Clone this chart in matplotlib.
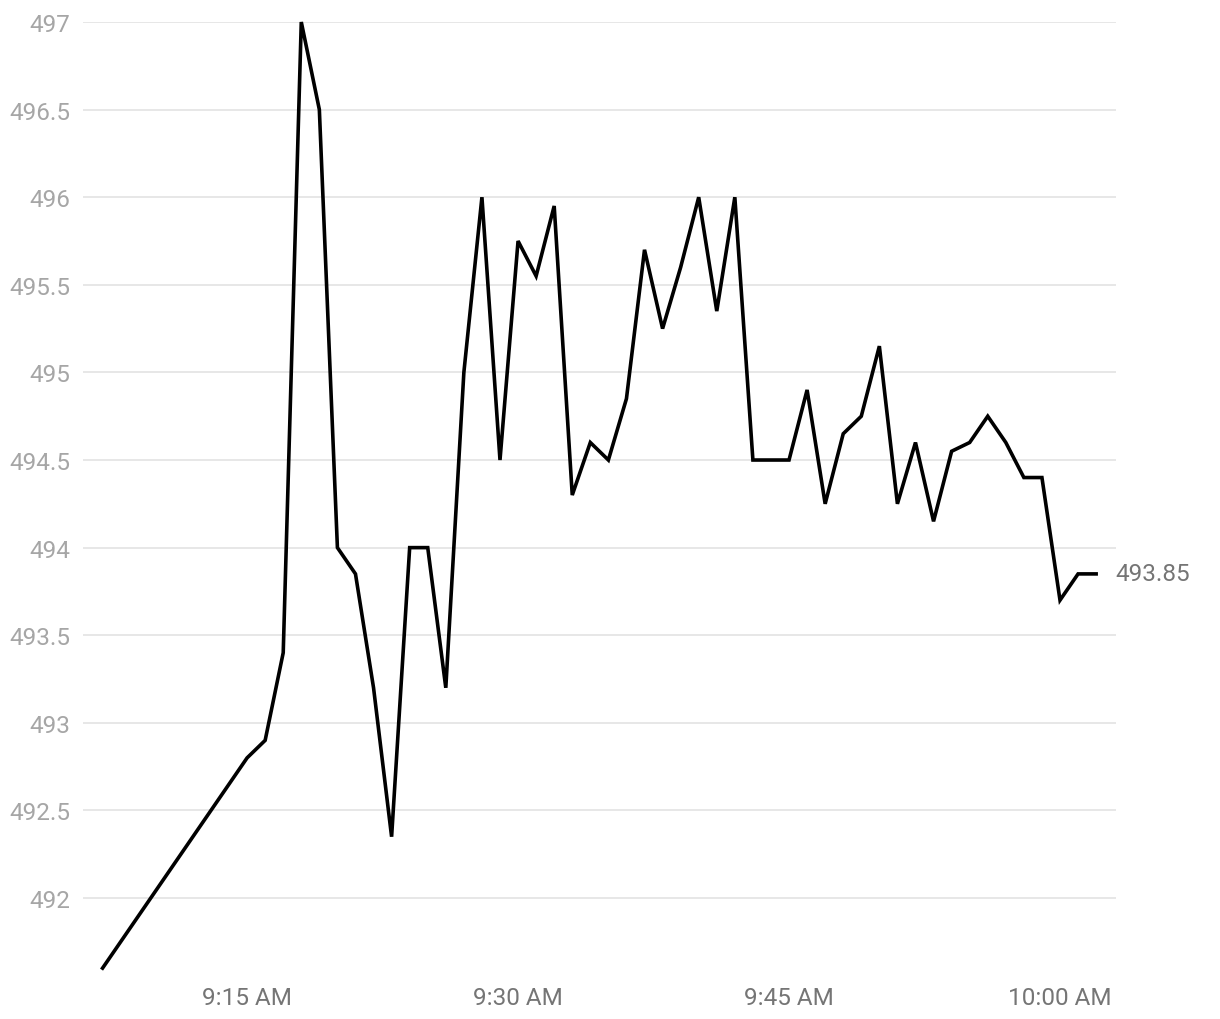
import matplotlib
matplotlib.use("Agg")
import matplotlib.pyplot as plt
import matplotlib.dates as mdates
import pandas as pd

# price readings, one per minute (gap between 9:07 and 9:15)
times = ['09:07', '09:15', '09:16', '09:17', '09:18', '09:19', '09:20', '09:21',
         '09:22', '09:23', '09:24', '09:25', '09:26', '09:27', '09:28', '09:29',
         '09:30', '09:31', '09:32', '09:33', '09:34', '09:35', '09:36', '09:37',
         '09:38', '09:39', '09:40', '09:41', '09:42', '09:43', '09:44', '09:45',
         '09:46', '09:47', '09:48', '09:49', '09:50', '09:51', '09:52', '09:53',
         '09:54', '09:55', '09:56', '09:57', '09:58', '09:59', '10:00', '10:01',
         '10:02']
prices = [491.6, 492.8, 492.9, 493.4, 497.0, 496.5, 494.0, 493.85,
          493.2, 492.35, 494.0, 494.0, 493.2, 495.0, 496.0, 494.5,
          495.75, 495.55, 495.95, 494.3, 494.6, 494.5, 494.85, 495.7,
          495.25, 495.6, 496.0, 495.35, 496.0, 494.5, 494.5, 494.5,
          494.9, 494.25, 494.65, 494.75, 495.15, 494.25, 494.6, 494.15,
          494.55, 494.6, 494.75, 494.6, 494.4, 494.4, 493.7, 493.85,
          493.85]
y_ticks = [492, 492.5, 493, 493.5, 494, 494.5, 495, 495.5, 496, 496.5, 497]
x_ticks = ['09:15', '09:30', '09:45', '10:00']

plt.rcParams['font.family'] = ['Roboto', 'DejaVu Sans']

day = '2024-01-02 '
t = pd.to_datetime([day + s for s in times])

fig = plt.figure(figsize=(12.2, 10.2), dpi=100)
ax = fig.add_axes([83 / 1220, 1 - 970 / 1020, (1116 - 83) / 1220, (970 - 23) / 1020])

ax.plot(t, prices, color='black', linewidth=2.6, clip_on=False, solid_joinstyle='miter')

ax.set_xlim(pd.Timestamp(day + '09:05:55'), pd.Timestamp(day + '10:03:06'))
ax.set_ylim(491.595, 497)

ax.set_yticks(y_ticks)
ax.set_yticklabels(['{:g}'.format(v) for v in y_ticks])
ax.set_xticks(pd.to_datetime([day + s for s in x_ticks]))
ax.xaxis.set_major_formatter(mdates.DateFormatter('%-I:%M %p'))

ax.grid(axis='y', color='#e3e3e3', linewidth=1.2)
ax.set_axisbelow(True)
for s in ax.spines.values():
    s.set_visible(False)
ax.tick_params(axis='y', length=0, pad=9, labelsize=17.5, labelcolor='#a6a6a6')
ax.tick_params(axis='x', length=0, pad=12, labelsize=17.5, labelcolor='#757575')

# last value label
ax.annotate('{:g}'.format(prices[-1]), xy=(t[-1], prices[-1]), xytext=(14, 0),
            textcoords='offset points', ha='left', va='center',
            fontsize=17.5, color='#757575', annotation_clip=False)

plt.savefig('out.png')
